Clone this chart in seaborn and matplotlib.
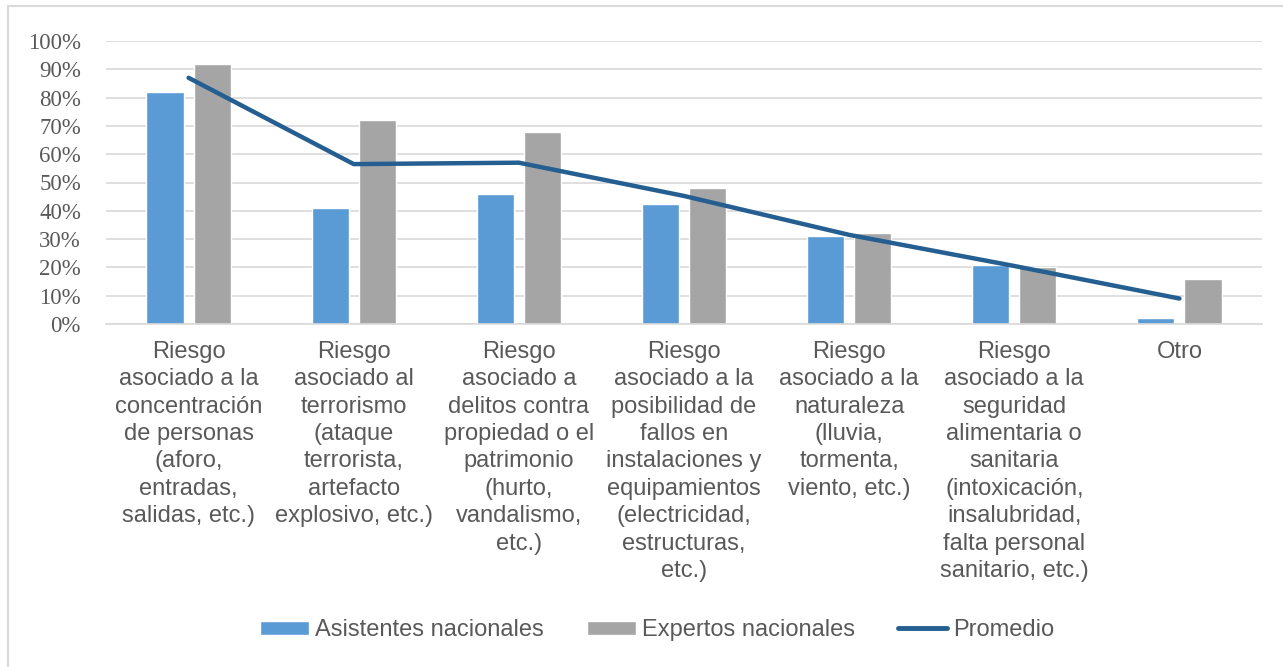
import numpy as np
import pandas as pd
import matplotlib
matplotlib.use("Agg")
import matplotlib.pyplot as plt
import seaborn as sns
from matplotlib.lines import Line2D

# data
categorias = [
    "Riesgo\nasociado a la\nconcentración\nde personas\n(aforo,\nentradas,\nsalidas, etc.)",
    "Riesgo\nasociado al\nterrorismo\n(ataque\nterrorista,\nartefacto\nexplosivo, etc.)",
    "Riesgo\nasociado a\ndelitos contra\npropiedad o el\npatrimonio\n(hurto,\nvandalismo,\netc.)",
    "Riesgo\nasociado a la\nposibilidad de\nfallos en\ninstalaciones y\nequipamientos\n(electricidad,\nestructuras,\netc.)",
    "Riesgo\nasociado a la\nnaturaleza\n(lluvia,\ntormenta,\nviento, etc.)",
    "Riesgo\nasociado a la\nseguridad\nalimentaria o\nsanitaria\n(intoxicación,\ninsalubridad,\nfalta personal\nsanitario, etc.)",
    "Otro",
]
asistentes = [0.82, 0.41, 0.46, 0.425, 0.31, 0.21, 0.02]
expertos = [0.92, 0.72, 0.68, 0.48, 0.32, 0.20, 0.16]
promedio = [0.87, 0.565, 0.57, 0.4525, 0.315, 0.205, 0.09]
series = ["Asistentes nacionales", "Expertos nacionales"]

df = pd.DataFrame({
    "cat": categorias * 2,
    "serie": [series[0]] * len(categorias) + [series[1]] * len(categorias),
    "valor": asistentes + expertos,
})

sns.set_style("white")
plt.rcParams["font.family"] = ["Liberation Sans", "DejaVu Sans"]
txt = "#595959"

fig = plt.figure(figsize=(12.83, 6.67), dpi=100)
ax = fig.add_axes([106 / 1283, 1 - 324 / 667, (1262 - 106) / 1283, (324 - 41) / 667])

sns.barplot(data=df, x="cat", y="valor", hue="serie", order=categorias,
            palette=["#5B9BD5", "#A5A5A5"], width=0.57, gap=0.21,
            saturation=1, ax=ax, zorder=2)
pos = np.arange(len(categorias))
sns.lineplot(x=pos, y=promedio, color="#255E91", linewidth=3.2, ax=ax,
             zorder=3, solid_capstyle="round", solid_joinstyle="round")

ax.set_ylim(0, 1)
ax.set_xlim(-0.5, len(categorias) - 0.5)
ax.set_yticks(np.arange(0, 1.01, 0.1))
ax.set_yticklabels([f"{int(round(v * 100))}%" for v in np.arange(0, 1.01, 0.1)],
                   family=["Liberation Serif", "DejaVu Serif"], fontsize=16.5, color=txt)
ax.set_xticks(pos)
ax.set_xticklabels(categorias, fontsize=17, color=txt, linespacing=1.32)
ax.tick_params(axis="y", length=0, pad=18)
ax.tick_params(axis="x", length=0, pad=12)
ax.set_xlabel("")
ax.set_ylabel("")
ax.grid(axis="y", color="#D9D9D9", linewidth=1.2, zorder=0)
ax.set_axisbelow(True)
for s in ["top", "right", "left"]:
    ax.spines[s].set_visible(False)
ax.spines["bottom"].set_color("#D9D9D9")
ax.spines["bottom"].set_linewidth(1.2)

handles, labels = ax.get_legend_handles_labels()
if ax.legend_:
    ax.legend_.remove()
line_h = Line2D([0], [0], color="#255E91", linewidth=3.5, solid_capstyle="round")
leg = fig.legend(handles[:2] + [line_h], series + ["Promedio"],
                 loc="center", bbox_to_anchor=(657 / 1283, 1 - 630 / 667),
                 ncol=3, frameon=False, fontsize=17, handlelength=2.1,
                 handleheight=0.55, handletextpad=0.25, columnspacing=1.8)
for t in leg.get_texts():
    t.set_color(txt)

# chart border (only left and top visible)
fig.add_artist(Line2D([8 / 1283, 8 / 1283], [0, 1 - 6 / 667], color="#D9D9D9",
                      linewidth=1.5, transform=fig.transFigure))
fig.add_artist(Line2D([8 / 1283, 1], [1 - 6 / 667, 1 - 6 / 667], color="#D9D9D9",
                      linewidth=1.5, transform=fig.transFigure))

fig.savefig("out.png", dpi=100)
